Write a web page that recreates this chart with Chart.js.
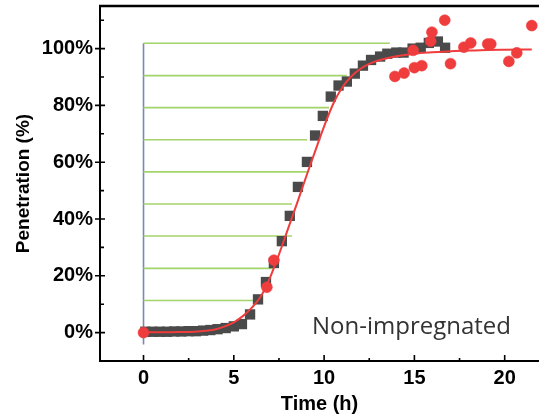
<!DOCTYPE html>
<html>
<head>
<meta charset="utf-8">
<title>Penetration vs time</title>
<script src="https://cdn.jsdelivr.net/npm/chart.js@4"></script>
<style>
  html, body { margin: 0; padding: 0; background: #fff; }
  canvas { display: block; }
</style>
</head>
<body>
<canvas id="chart" width="539" height="416"></canvas>
<script>
// measured penetration (grey squares)
const squareTime = [0.1, 0.5, 0.9, 1.3, 1.7, 2.1, 2.5, 2.9, 3.3, 3.7, 4.1, 4.55, 5.0,
  5.45, 5.9, 6.34, 6.78, 7.22, 7.66, 8.1, 8.55, 9.05, 9.5, 9.93, 10.37, 10.8, 11.26,
  11.7, 12.15, 12.6, 13.1, 13.5, 14.0, 14.4, 14.9, 15.35, 15.8, 16.3, 16.7];
const squarePen = [0.3, 0.3, 0.3, 0.3, 0.4, 0.4, 0.5, 0.5, 0.7, 0.9, 1.2, 1.6, 2.2,
  3.0, 6.4, 11.7, 17.8, 24.5, 32.2, 41.1, 51.3, 60.1, 69.4, 76.3, 83.1, 87.0, 88.4,
  91.2, 94.0, 96.0, 97.2, 98.2, 98.6, 98.6, 100.0, 100.3, 102.0, 102.5, 100.3];

// red points
const dotTime = [0, 6.83, 7.22, 13.92, 14.43, 14.93, 15.0, 15.41, 15.9, 15.97, 16.68,
  17.0, 17.74, 18.12, 19.06, 19.23, 20.23, 20.67, 21.5];
const dotPen = [0, 16.0, 25.5, 90.2, 91.4, 99.4, 93.3, 94.0, 102.6, 105.8, 110.0,
  94.7, 100.5, 102.0, 101.6, 101.6, 95.5, 98.5, 108.1];

// fitted curve
const fitTime = [0, 1, 2, 3, 4, 4.5, 5, 5.5, 6, 6.5, 7, 7.5, 8, 8.5, 9, 9.5, 10, 10.5,
  11, 11.5, 12, 12.5, 13, 14, 15, 16, 17, 18, 19, 20, 21.5];
const fitPen = [0.1, 0.1, 0.2, 0.4, 1.2, 2.2, 3.6, 5.8, 8.8, 12.8, 19.3, 27.5, 36.5,
  45.5, 54.8, 63.8, 72.6, 80.5, 86.3, 90.2, 92.8, 94.6, 95.8, 97.3, 98.2, 98.7, 99.1,
  99.3, 99.5, 99.6, 99.7];

// green guide lines: level (%) and where each one stops (h)
const lagLevel = [11.3, 22.6, 34.0, 45.3, 56.6, 67.9, 79.2, 90.5, 101.9];
const lagEnd = [6.06, 7.17, 8.22, 8.22, 9.05, 9.05, 10.27, 11.26, 13.64];

// blue marker at t = 0
const startTime = [0, 0];
const startPen = [-4.2, 101.9];

const xTicks = [0, 5, 10, 15, 20];
const xMinorTicks = [2.5, 7.5, 12.5, 17.5];
const yTicks = [0, 20, 40, 60, 80, 100];
const yMinorTicks = [10, 30, 50, 70, 90, 110];

const pts = (xs, ys) => xs.map((x, i) => ({ x: x, y: ys[i] }));
const axisFont = "'Liberation Sans', Arial, sans-serif";

const guideSets = lagLevel.map((lvl, i) => ({
    data: [{ x: 0, y: lvl }, { x: lagEnd[i], y: lvl }],
    showLine: true,
    borderColor: '#a2d46a',
    borderWidth: 1.6,
    pointRadius: 0,
    order: 4,
}));

// frame line along the top plus tick marks (minor ones inside)
const frameTicks = {
    id: 'frameTicks',
    afterDatasetsDraw(chart) {
        const { ctx, chartArea: a, scales: { x, y } } = chart;
        ctx.save();
        ctx.strokeStyle = '#000';
        ctx.lineWidth = 2.4;
        ctx.beginPath();
        ctx.moveTo(a.left - 1, a.top);
        ctx.lineTo(a.right, a.top);
        ctx.stroke();

        ctx.lineWidth = 1.6;
        ctx.beginPath();
        xTicks.forEach(v => {
            const px = x.getPixelForValue(v);
            ctx.moveTo(px, a.bottom);
            ctx.lineTo(px, a.bottom - 6);
        });
        xMinorTicks.forEach(v => {
            const px = x.getPixelForValue(v);
            ctx.moveTo(px, a.bottom);
            ctx.lineTo(px, a.bottom - 3);
        });
        yTicks.forEach(v => {
            const py = y.getPixelForValue(v);
            ctx.moveTo(a.left - 5, py);
            ctx.lineTo(a.left + 5, py);
        });
        yMinorTicks.forEach(v => {
            const py = y.getPixelForValue(v);
            ctx.moveTo(a.left, py);
            ctx.lineTo(a.left + 4, py);
        });
        ctx.stroke();

        ctx.fillStyle = '#333';
        ctx.font = "24px 'Open Sans', sans-serif";
        ctx.textAlign = 'left';
        ctx.textBaseline = 'alphabetic';
        ctx.fillText('Non-impregnated', x.getPixelForValue(9.33), y.getPixelForValue(-0.5));
        ctx.restore();
    }
};

new Chart(document.getElementById('chart'), {
    type: 'scatter',
    data: {
        datasets: [
            {
                data: pts(dotTime, dotPen),
                pointStyle: 'circle',
                pointRadius: 5.5,
                backgroundColor: '#ef3c3c',
                borderColor: '#ef3c3c',
                borderWidth: 0.5,
                order: 0,
            },
            {
                data: pts(fitTime, fitPen),
                showLine: true,
                cubicInterpolationMode: 'monotone',
                borderColor: '#ef3c3c',
                borderWidth: 2,
                pointRadius: 0,
                order: 1,
            },
            {
                data: pts(squareTime, squarePen),
                pointStyle: 'rect',
                pointRadius: 7.3,
                backgroundColor: '#4a4a4a',
                borderColor: '#4a4a4a',
                borderWidth: 0,
                order: 2,
            },
            ...guideSets,
            {
                data: pts(startTime, startPen),
                showLine: true,
                borderColor: '#7a86b6',
                borderWidth: 1.6,
                pointRadius: 0,
                order: 5,
            },
        ],
    },
    options: {
        responsive: false,
        animation: false,
        events: [],
        // the frame runs right up to the canvas edge, so no room is kept for markers
        layout: { autoPadding: false, padding: { top: 6, right: 0, left: 0, bottom: 0 } },
        plugins: { legend: { display: false }, tooltip: { enabled: false } },
        scales: {
            x: {
                type: 'linear',
                min: -2.41,
                max: 21.9,
                afterFit: s => { s.height = 55; s.paddingLeft = 0; s.paddingRight = 0; },
                afterBuildTicks: s => { s.ticks = xTicks.map(v => ({ value: v })); },
                grid: { display: false, drawTicks: false },
                border: { display: true, color: '#000', width: 2 },
                ticks: {
                    padding: 5,
                    color: '#000',
                    font: { family: axisFont, size: 20, weight: 'bold' },
                    maxRotation: 0,
                },
                title: {
                    display: true,
                    text: 'Time (h)',
                    color: '#000',
                    padding: { top: 0, bottom: 0 },
                    font: { family: axisFont, size: 20, weight: 'bold' },
                },
            },
            y: {
                type: 'linear',
                min: -10,
                max: 115,
                afterFit: s => { s.width = 100; s.paddingTop = 0; s.paddingBottom = 0; },
                afterBuildTicks: s => { s.ticks = yTicks.map(v => ({ value: v })); },
                grid: { display: false, drawTicks: false },
                border: { display: true, color: '#000', width: 2 },
                ticks: {
                    padding: 7,
                    color: '#000',
                    callback: v => v + '%',
                    font: { family: axisFont, size: 20, weight: 'bold' },
                },
                title: {
                    display: true,
                    text: 'Penetration (%)',
                    color: '#000',
                    padding: { top: 12, bottom: 0 },
                    font: { family: axisFont, size: 19, weight: 'bold' },
                },
            },
        },
    },
    plugins: [frameTicks],
});
</script>
</body>
</html>
